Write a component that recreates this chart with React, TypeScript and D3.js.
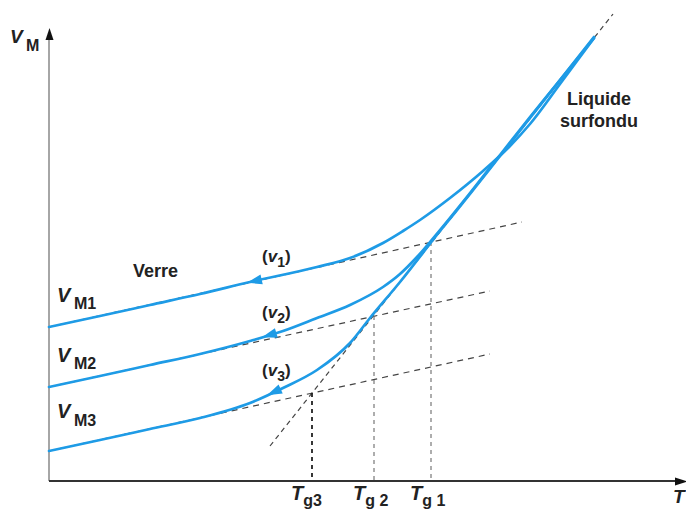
import React from 'react';
import { scaleLinear, line, curveMonotoneX } from 'd3';

// units: T along x (0..630), V along y (0..450)
const liquidLine: [number, number][] = [[221, 35], [564, 467]];

const glassLines: [number, number][][] = [
  [[0, 154], [473, 259]],
  [[0, 94], [441, 190]],
  [[0, 30], [441, 127]],
];

const curveV1: [number, number][] = [
  [0, 154], [51, 165], [101, 176], [151, 187], [201, 199], [268, 214], [301, 223],
  [334, 238], [354, 250], [371, 261], [401, 283], [434, 310], [461, 335], [481, 357],
  [511, 397], [545, 443],
];
const curveV2: [number, number][] = [
  [0, 94], [51, 105], [101, 116], [151, 127], [201, 140], [234, 150], [268, 163],
  [301, 176], [334, 194], [351, 207], [368, 224], [391, 251], [421, 288], [451, 326],
  [481, 364], [511, 401], [545, 444],
];
const curveV3: [number, number][] = [
  [0, 30], [51, 41], [101, 52], [151, 63], [201, 78], [234, 93], [268, 111],
  [301, 138], [321, 163], [351, 199], [391, 250], [421, 287], [451, 325], [481, 363],
  [511, 401], [545, 443],
];
const curves = [curveV1, curveV2, curveV3];
const arrowT = [198, 213, 218];

const tgPoints = [
  { sub: 'g 1', T: 382, V: 239 },
  { sub: 'g 2', T: 325, V: 165 },
  { sub: 'g3', T: 263, V: 88 },
];

const W = 686;
const H = 513;
const blue = '#1e9be6';
const font = '"Liberation Sans", Arial, sans-serif';

const x = scaleLinear().domain([0, 630]).range([49, 679]);
const y = scaleLinear().domain([0, 450]).range([481, 31]);

const path = line<[number, number]>()
  .x(d => x(d[0]))
  .y(d => y(d[1]));

const smooth = line<[number, number]>()
  .x(d => x(d[0]))
  .y(d => y(d[1]))
  .curve(curveMonotoneX);

function valueAt(pts: [number, number][], t: number) {
  for (let i = 1; i < pts.length; i++) {
    if (t <= pts[i][0]) {
      const [t0, v0] = pts[i - 1];
      const [t1, v1] = pts[i];
      return v0 + ((t - t0) / (t1 - t0)) * (v1 - v0);
    }
  }
  return pts[pts.length - 1][1];
}

function arrowHead(pts: [number, number][], t: number) {
  const px = x(t), py = y(valueAt(pts, t));
  const qx = x(t + 10), qy = y(valueAt(pts, t + 10));
  let ux = px - qx, uy = py - qy;
  const len = Math.hypot(ux, uy);
  ux /= len; uy /= len;
  const L = 15, w = 5;
  const bx = px - ux * L, by = py - uy * L;
  return `M${px},${py}L${bx - uy * w},${by + ux * w}L${bx + uy * w},${by - ux * w}Z`;
}

const App = () => {
  return (
    <svg width={W} height={H} style={{ position: 'absolute', left: 0, top: 0, background: '#fff' }}>
      {/* axes */}
      <line x1={49} y1={481} x2={49} y2={36} stroke="#888" strokeWidth={1.5} />
      <path d="M49.5,28L45.5,40L53.5,40Z" fill="#111" />
      <line x1={49} y1={481} x2={676} y2={481} stroke="#333" strokeWidth={2} />
      <path d="M688,481.5L675,477.5L675,485.5Z" fill="#111" />

      {/* dashed construction lines */}
      <path d={path(liquidLine) || ''} fill="none" stroke="#444" strokeWidth={1.2} strokeDasharray="5,4" />
      {glassLines.map((g, i) => (
        <path key={i} d={path(g) || ''} fill="none" stroke="#444" strokeWidth={1.2} strokeDasharray="6,5" />
      ))}
      {tgPoints.map((p, i) => (
        <line key={i} x1={x(p.T)} y1={y(p.V)} x2={x(p.T)} y2={481}
          stroke={i === 2 ? '#222' : '#777'} strokeWidth={i === 2 ? 1.8 : 1.2} strokeDasharray="4,4" />
      ))}

      {/* cooling curves */}
      {curves.map((c, i) => (
        <g key={i}>
          <path d={smooth(c) || ''} fill="none" stroke={blue} strokeWidth={2.7} strokeLinecap="round" />
          <path d={arrowHead(c, arrowT[i])} fill={blue} />
        </g>
      ))}

      {/* text */}
      <g fontFamily={font} fontWeight="bold" fill="#222">
        <text x={10} y={43} fontSize={19} fontStyle="italic">V</text>
        <text x={26} y={51} fontSize={16}>M</text>

        <text x={57} y={302} fontSize={20} fontStyle="italic">V</text>
        <text x={74} y={309} fontSize={16}>M1</text>
        <text x={57} y={362} fontSize={20} fontStyle="italic">V</text>
        <text x={74} y={369} fontSize={16}>M2</text>
        <text x={57} y={418} fontSize={20} fontStyle="italic">V</text>
        <text x={74} y={426} fontSize={16}>M3</text>

        <text x={133} y={277} fontSize={18}>Verre</text>

        {[['1', 262], ['2', 318], ['3', 376]].map(([s, by]) => (
          <text key={s} x={262} y={+by} fontSize={17}>
            (<tspan fontStyle="italic">v</tspan>
            <tspan fontSize={14} dy={5}>{s}</tspan>
            <tspan dy={-5}>)</tspan>
          </text>
        ))}

        <text x={599} y={105} fontSize={18} textAnchor="middle">Liquide</text>
        <text x={599} y={127} fontSize={18} textAnchor="middle">surfondu</text>

        {tgPoints.map((p, i) => (
          <text key={i} x={x(p.T) - 21} y={500} fontSize={20} fontStyle="italic">
            T<tspan fontStyle="normal" fontSize={16} dy={6}>{p.sub}</tspan>
          </text>
        ))}
        <text x={673} y={503} fontSize={19} fontStyle="italic">T</text>
      </g>
    </svg>
  );
};

export default App;
